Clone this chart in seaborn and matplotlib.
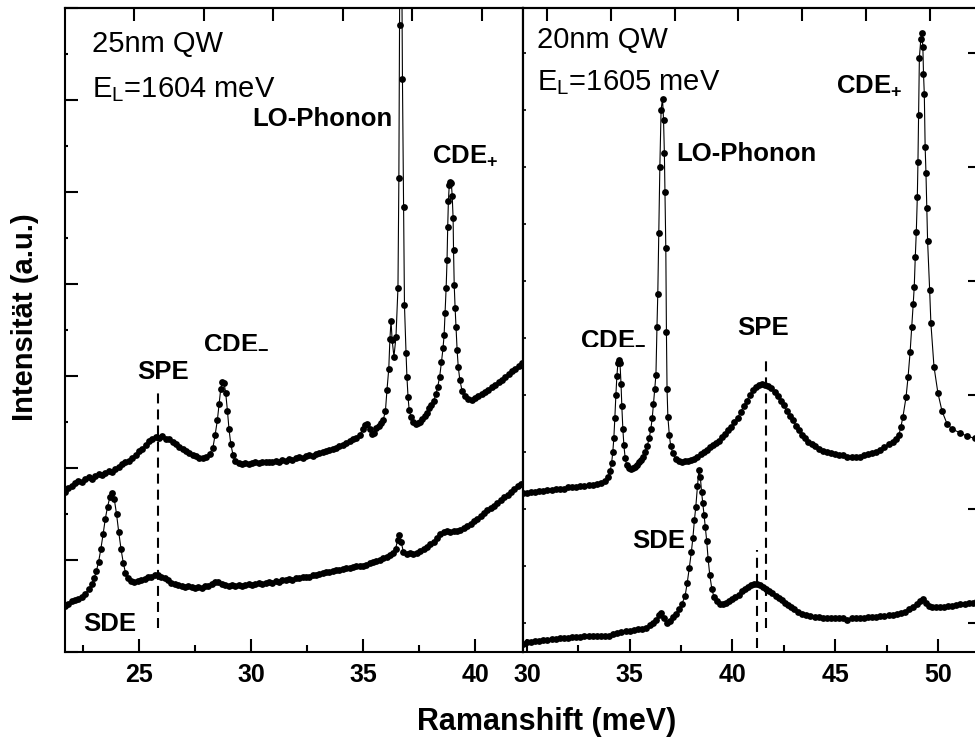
import matplotlib
matplotlib.use("Agg")
import matplotlib.pyplot as plt
import seaborn as sns
import pandas as pd
from matplotlib.ticker import MultipleLocator, FixedLocator, NullFormatter

# ---------------- data ----------------
# Left panel: 25 nm QW, E_L = 1604 meV (upper spectrum L1, lower spectrum L2)
L1_x = [21.70, 21.85, 22.00, 22.15, 22.30, 22.45, 22.60, 22.75, 22.90, 23.05,
        23.20, 23.35, 23.50, 23.65, 23.80, 23.95, 24.10, 24.25, 24.40, 24.55,
        24.70, 24.85, 25.00, 25.15, 25.30, 25.45, 25.60, 25.75, 25.90, 26.05,
        26.20, 26.35, 26.50, 26.65, 26.80, 26.95, 27.10, 27.25, 27.40, 27.55,
        27.70, 27.85, 28.00, 28.15, 28.30, 28.40, 28.50, 28.58, 28.65, 28.72,
        28.80, 28.87, 28.95, 29.02, 29.10, 29.20, 29.30, 29.45, 29.60, 29.75,
        29.90, 30.05, 30.20, 30.35, 30.50, 30.65, 30.80, 30.95, 31.10, 31.25,
        31.40, 31.55, 31.70, 31.85, 32.00, 32.15, 32.30, 32.45, 32.60, 32.75,
        32.90, 33.05, 33.20, 33.35, 33.50, 33.65, 33.80, 33.95, 34.10, 34.25,
        34.40, 34.55, 34.70, 34.85, 35.00, 35.10, 35.20, 35.30, 35.40, 35.50,
        35.60, 35.70, 35.80, 35.90, 36.00, 36.07, 36.15, 36.20, 36.25, 36.30,
        36.38, 36.47, 36.56, 36.60, 36.63, 36.68, 36.76, 36.81, 36.85, 36.92,
        36.96, 37.01, 37.06, 37.15, 37.25, 37.35, 37.45, 37.55, 37.65, 37.75,
        37.85, 37.95, 38.05, 38.15, 38.25, 38.33, 38.42, 38.50, 38.57, 38.62,
        38.66, 38.71, 38.75, 38.78, 38.81, 38.85, 38.90, 38.94, 38.98, 39.02,
        39.04, 39.07, 39.11, 39.15, 39.20, 39.25, 39.32, 39.42, 39.55, 39.70,
        39.85, 40.00, 40.15, 40.30, 40.45, 40.60, 40.75, 40.90, 41.05, 41.20,
        41.35, 41.50, 41.65, 41.80, 41.95, 42.10]
L1_y = [1.74, 1.78, 1.80, 1.84, 1.86, 1.85, 1.88, 1.90, 1.88, 1.91,
        1.93, 1.92, 1.95, 1.97, 1.96, 1.99, 2.01, 2.04, 2.06, 2.08,
        2.11, 2.14, 2.18, 2.21, 2.25, 2.29, 2.32, 2.34, 2.33, 2.35,
        2.32, 2.31, 2.28, 2.26, 2.23, 2.21, 2.18, 2.16, 2.14, 2.13,
        2.11, 2.11, 2.12, 2.15, 2.22, 2.36, 2.52, 2.70, 2.86, 2.94,
        2.92, 2.82, 2.62, 2.42, 2.26, 2.14, 2.08, 2.05, 2.04, 2.05,
        2.04, 2.05, 2.06, 2.05, 2.06, 2.07, 2.06, 2.07, 2.08, 2.07,
        2.09, 2.08, 2.10, 2.09, 2.11, 2.12, 2.11, 2.13, 2.14, 2.13,
        2.15, 2.16, 2.17, 2.18, 2.20, 2.21, 2.22, 2.24, 2.25, 2.27,
        2.29, 2.31, 2.33, 2.36, 2.42, 2.47, 2.48, 2.42, 2.37, 2.38,
        2.43, 2.46, 2.49, 2.52, 2.62, 2.85, 3.08, 3.40, 3.60, 3.39,
        3.21, 3.42, 3.96, 5.15, 6.82, 9.50, 6.23, 4.84, 3.77, 3.25,
        2.99, 2.77, 2.63, 2.55, 2.50, 2.48, 2.49, 2.50, 2.53, 2.57,
        2.60, 2.65, 2.68, 2.73, 2.80, 2.88, 2.99, 3.15, 3.30, 3.45,
        3.68, 3.96, 4.26, 4.62, 4.90, 5.08, 5.11, 5.10, 4.96, 4.72,
        4.37, 3.99, 3.74, 3.53, 3.28, 3.10, 2.96, 2.84, 2.78, 2.75,
        2.74, 2.76, 2.78, 2.80, 2.83, 2.85, 2.88, 2.90, 2.93, 2.96,
        2.99, 3.02, 3.05, 3.08, 3.11, 3.14]

L2_x = [21.70, 21.85, 22.00, 22.15, 22.30, 22.45, 22.60, 22.75, 22.90, 23.00,
        23.10, 23.20, 23.30, 23.40, 23.50, 23.60, 23.70, 23.80, 23.90, 24.00,
        24.10, 24.20, 24.30, 24.40, 24.50, 24.65, 24.80, 24.95, 25.10, 25.25,
        25.40, 25.55, 25.70, 25.85, 26.00, 26.15, 26.30, 26.45, 26.60, 26.75,
        26.90, 27.05, 27.20, 27.35, 27.50, 27.65, 27.80, 27.95, 28.10, 28.25,
        28.40, 28.55, 28.70, 28.85, 29.00, 29.15, 29.30, 29.45, 29.60, 29.75,
        29.90, 30.05, 30.20, 30.35, 30.50, 30.65, 30.80, 30.95, 31.10, 31.25,
        31.40, 31.55, 31.70, 31.85, 32.00, 32.15, 32.30, 32.45, 32.60, 32.75,
        32.90, 33.05, 33.20, 33.35, 33.50, 33.65, 33.80, 33.95, 34.10, 34.25,
        34.40, 34.55, 34.70, 34.85, 35.00, 35.15, 35.30, 35.45, 35.60, 35.75,
        35.90, 36.05, 36.20, 36.35, 36.45, 36.55, 36.62, 36.70, 36.80, 36.95,
        37.10, 37.25, 37.40, 37.55, 37.70, 37.85, 38.00, 38.15, 38.30, 38.45,
        38.60, 38.75, 38.90, 39.05, 39.20, 39.35, 39.50, 39.65, 39.80, 39.95,
        40.10, 40.25, 40.40, 40.55, 40.70, 40.85, 41.00, 41.15, 41.30, 41.45,
        41.60, 41.75, 41.90, 42.05]
L2_y = [0.50, 0.52, 0.55, 0.56, 0.58, 0.60, 0.63, 0.68, 0.74, 0.80,
        0.88, 0.98, 1.12, 1.28, 1.45, 1.58, 1.68, 1.73, 1.66, 1.50,
        1.30, 1.12, 0.97, 0.86, 0.80, 0.77, 0.76, 0.77, 0.78, 0.79,
        0.81, 0.82, 0.84, 0.84, 0.82, 0.80, 0.78, 0.75, 0.74, 0.73,
        0.72, 0.71, 0.72, 0.71, 0.70, 0.71, 0.70, 0.72, 0.72, 0.74,
        0.76, 0.76, 0.74, 0.73, 0.72, 0.73, 0.72, 0.73, 0.72, 0.73,
        0.74, 0.73, 0.74, 0.75, 0.74, 0.75, 0.76, 0.75, 0.77, 0.76,
        0.78, 0.78, 0.79, 0.78, 0.80, 0.80, 0.81, 0.82, 0.82, 0.84,
        0.84, 0.85, 0.86, 0.87, 0.87, 0.88, 0.89, 0.89, 0.90, 0.91,
        0.91, 0.92, 0.93, 0.93, 0.94, 0.95, 0.97, 0.98, 0.99, 1.00,
        1.02, 1.03, 1.05, 1.08, 1.12, 1.22, 1.27, 1.20, 1.09, 1.07,
        1.08, 1.07, 1.08, 1.10, 1.12, 1.14, 1.17, 1.20, 1.24, 1.28,
        1.30, 1.31, 1.30, 1.31, 1.32, 1.33, 1.35, 1.37, 1.39, 1.42,
        1.45, 1.48, 1.51, 1.54, 1.56, 1.59, 1.62, 1.65, 1.68, 1.71,
        1.74, 1.77, 1.80, 1.83]

# Right panel: 20 nm QW, E_L = 1605 meV (upper spectrum R1, lower spectrum R2)
R1_x = [29.81, 30.00, 30.20, 30.40, 30.60, 30.80, 31.00, 31.20, 31.40, 31.60,
        31.80, 32.00, 32.20, 32.40, 32.60, 32.80, 33.00, 33.20, 33.40, 33.60,
        33.80, 33.95, 34.05, 34.12, 34.18, 34.23, 34.28, 34.33, 34.38, 34.43,
        34.48, 34.53, 34.58, 34.62, 34.67, 34.72, 34.78, 34.85, 34.95, 35.05,
        35.15, 35.25, 35.35, 35.45, 35.55, 35.65, 35.75, 35.85, 35.95, 36.03,
        36.10, 36.16, 36.22, 36.28, 36.33, 36.37, 36.42, 36.47, 36.53, 36.60,
        36.65, 36.69, 36.72, 36.76, 36.79, 36.82, 36.86, 36.93, 37.00, 37.10,
        37.25, 37.40, 37.55, 37.70, 37.85, 38.00, 38.15, 38.30, 38.45, 38.60,
        38.75, 38.90, 39.05, 39.20, 39.35, 39.50, 39.65, 39.80, 39.95, 40.10,
        40.25, 40.40, 40.55, 40.70, 40.85, 41.00, 41.15, 41.30, 41.45, 41.60,
        41.75, 41.90, 42.05, 42.20, 42.35, 42.50, 42.65, 42.80, 42.95, 43.10,
        43.25, 43.40, 43.55, 43.70, 43.85, 44.00, 44.20, 44.40, 44.60, 44.80,
        45.00, 45.20, 45.40, 45.60, 45.80, 46.00, 46.20, 46.40, 46.60, 46.80,
        47.00, 47.20, 47.40, 47.60, 47.80, 47.95, 48.10, 48.20, 48.30, 48.45,
        48.55, 48.65, 48.73, 48.80, 48.85, 48.90, 48.95, 49.00, 49.03, 49.06,
        49.10, 49.17, 49.22, 49.27, 49.30, 49.34, 49.38, 49.42, 49.46, 49.50,
        49.60, 49.66, 49.81, 50.00, 50.20, 50.44, 50.70, 51.07, 51.40, 51.80,
        52.05]
R1_y = [2.14, 2.14, 2.15, 2.15, 2.16, 2.16, 2.17, 2.17, 2.18, 2.18,
        2.18, 2.19, 2.19, 2.19, 2.20, 2.20, 2.21, 2.21, 2.22, 2.23,
        2.25, 2.28, 2.33, 2.40, 2.50, 2.62, 2.80, 3.00, 3.17, 3.28,
        3.31, 3.28, 3.10, 2.90, 2.70, 2.56, 2.45, 2.39, 2.36, 2.35,
        2.36, 2.37, 2.39, 2.41, 2.43, 2.46, 2.50, 2.55, 2.62, 2.70,
        2.80, 2.92, 3.05, 3.18, 3.60, 3.89, 4.42, 5.00, 5.50, 5.60,
        5.41, 5.12, 4.78, 4.29, 3.55, 3.05, 2.81, 2.65, 2.55, 2.49,
        2.44, 2.42, 2.41, 2.42, 2.42, 2.43, 2.44, 2.46, 2.48, 2.50,
        2.52, 2.54, 2.56, 2.58, 2.60, 2.63, 2.66, 2.69, 2.72, 2.76,
        2.80, 2.85, 2.90, 2.95, 3.00, 3.04, 3.07, 3.09, 3.10, 3.09,
        3.08, 3.06, 3.03, 2.99, 2.95, 2.91, 2.86, 2.82, 2.78, 2.73,
        2.69, 2.65, 2.62, 2.59, 2.57, 2.55, 2.53, 2.51, 2.50, 2.49,
        2.48, 2.47, 2.47, 2.46, 2.46, 2.46, 2.46, 2.47, 2.48, 2.49,
        2.50, 2.52, 2.54, 2.57, 2.59, 2.61, 2.65, 2.72, 2.81, 2.98,
        3.16, 3.38, 3.60, 3.80, 3.95, 4.21, 4.43, 4.74, 5.04, 5.46,
        5.96, 6.12, 6.18, 6.05, 5.82, 5.64, 5.18, 4.95, 4.64, 4.35,
        3.92, 3.63, 3.25, 3.02, 2.86, 2.75, 2.70, 2.67, 2.64, 2.62,
        2.61]

R2_x = [29.81, 30.00, 30.20, 30.40, 30.60, 30.80, 31.00, 31.20, 31.40, 31.60,
        31.80, 32.00, 32.20, 32.40, 32.60, 32.80, 33.00, 33.20, 33.40, 33.60,
        33.80, 34.00, 34.20, 34.40, 34.60, 34.80, 35.00, 35.20, 35.40, 35.60,
        35.80, 36.00, 36.15, 36.30, 36.45, 36.55, 36.65, 36.80, 36.95, 37.10,
        37.25, 37.40, 37.55, 37.70, 37.80, 37.90, 38.00, 38.08, 38.15, 38.22,
        38.30, 38.37, 38.44, 38.50, 38.56, 38.62, 38.68, 38.75, 38.82, 38.90,
        39.00, 39.10, 39.25, 39.40, 39.55, 39.70, 39.85, 40.00, 40.15, 40.30,
        40.45, 40.60, 40.75, 40.90, 41.05, 41.20, 41.35, 41.50, 41.65, 41.80,
        41.95, 42.10, 42.25, 42.40, 42.55, 42.70, 42.85, 43.00, 43.20, 43.40,
        43.60, 43.80, 44.00, 44.20, 44.40, 44.60, 44.80, 45.00, 45.20, 45.40,
        45.60, 45.80, 46.00, 46.20, 46.40, 46.60, 46.80, 47.00, 47.20, 47.40,
        47.60, 47.80, 48.00, 48.20, 48.40, 48.60, 48.80, 49.00, 49.15, 49.27,
        49.40, 49.55, 49.70, 49.90, 50.10, 50.30, 50.50, 50.70, 50.90, 51.10,
        51.30, 51.50, 51.70, 51.90, 52.05]
R2_y = [0.82, 0.83, 0.83, 0.84, 0.84, 0.85, 0.85, 0.86, 0.86, 0.87,
        0.87, 0.87, 0.88, 0.88, 0.88, 0.89, 0.89, 0.89, 0.89, 0.89,
        0.89, 0.89, 0.90, 0.91, 0.92, 0.93, 0.93, 0.94, 0.95, 0.95,
        0.96, 0.98, 1.00, 1.03, 1.07, 1.09, 1.04, 1.00, 1.02, 1.05,
        1.08, 1.12, 1.17, 1.24, 1.35, 1.48, 1.62, 1.75, 1.90, 2.02,
        2.20, 2.34, 2.28, 2.15, 2.05, 1.95, 1.84, 1.72, 1.56, 1.42,
        1.30, 1.23, 1.19, 1.17, 1.17, 1.18, 1.19, 1.21, 1.23, 1.25,
        1.28, 1.30, 1.32, 1.33, 1.34, 1.34, 1.33, 1.32, 1.30, 1.28,
        1.26, 1.24, 1.22, 1.20, 1.18, 1.16, 1.14, 1.12, 1.10, 1.08,
        1.07, 1.06, 1.05, 1.05, 1.04, 1.04, 1.04, 1.04, 1.04, 1.04,
        1.03, 1.04, 1.04, 1.04, 1.04, 1.05, 1.05, 1.05, 1.06, 1.06,
        1.07, 1.07, 1.08, 1.09, 1.10, 1.12, 1.14, 1.17, 1.19, 1.21,
        1.18, 1.15, 1.14, 1.14, 1.14, 1.14, 1.15, 1.15, 1.16, 1.17,
        1.17, 1.18, 1.18, 1.19, 1.20]

# dashed SPE marker lines: (x, y_from, y_to)
spe_left = [(25.85, 0.26, 2.87)]
spe_right = [(41.63, 0.96, 3.33), (41.19, 0.78, 1.64)]

# tick labels
left_xticks = [25, 30, 35, 40]
right_xticks = [30, 35, 40, 45, 50]
top_left_cm = [200, 225, 250, 275, 300, 325]
top_right_cm = [250, 275, 300, 325, 350, 375, 400]

# annotations (text, x, y)
left_labels = [("LO-Phonon", 30.04, 5.72), ("CDE$_\\mathbf{+}$", 38.08, 5.32),
               ("SPE", 24.91, 2.97), ("CDE$_\\mathbf{-}$", 27.86, 3.30),
               ("SDE", 22.50, 0.23)]
right_labels = [("LO-Phonon", 37.25, 5.05), ("CDE$_\\mathbf{+}$", 45.04, 5.65),
                ("CDE$_\\mathbf{-}$", 32.58, 3.45), ("SPE", 40.22, 3.53),
                ("SDE", 35.11, 1.66)]

# ---------------- style ----------------
sns.set_style("white")
plt.rcParams["font.family"] = ["Liberation Sans", "DejaVu Sans"]
plt.rcParams["mathtext.fontset"] = "custom"
plt.rcParams["mathtext.rm"] = "Liberation Sans"
plt.rcParams["mathtext.bf"] = "Liberation Sans:bold"
plt.rcParams["mathtext.it"] = "Liberation Sans:italic"
plt.rcParams["axes.linewidth"] = 1.5
for key in ("text.color", "axes.labelcolor", "xtick.color", "ytick.color",
            "axes.edgecolor"):
    plt.rcParams[key] = "black"

W, H = 975.0, 740.0
fig = plt.figure(figsize=(9.75, 7.4), dpi=100)
axL = fig.add_axes([65 / W, 88 / H, 458 / W, 644 / H])
axR = fig.add_axes([523 / W, 88 / H, 457 / W, 644 / H])

line_kw = dict(color="black", linewidth=0.8, marker="o", markersize=4.9,
               mec="black", mew=0, estimator=None, sort=False, legend=False)

for ax, curves in ((axL, [(L1_x, L1_y), (L2_x, L2_y)]),
                   (axR, [(R1_x, R1_y), (R2_x, R2_y)])):
    for xs, ys in curves:
        df = pd.DataFrame({"shift": xs, "intensity": ys})
        sns.lineplot(data=df, x="shift", y="intensity", ax=ax, **line_kw)

for x0, y0, y1 in spe_left:
    axL.plot([x0, x0], [y0, y1], color="black", lw=1.5, ls=(0, (4.8, 2.9)))
for x0, y0, y1 in spe_right:
    axR.plot([x0, x0], [y0, y1], color="black", lw=1.5, ls=(0, (4.8, 2.9)))

axL.set_xlim(21.70, 42.14)
axL.set_ylim(0, 7.0)
axR.set_xlim(29.81, 52.05)
axR.set_ylim(0.746, 6.395)

for ax in (axL, axR):
    ax.set_xlabel("")
    ax.set_ylabel("")
    for sp in ax.spines.values():
        sp.set_linewidth(1.5)
        sp.set_color("black")

# x ticks
axL.set_xticks(left_xticks, labels=[str(v) for v in left_xticks],
               fontsize=18, fontweight="bold", color="black")
axR.set_xticks(right_xticks, labels=[str(v) for v in right_xticks],
               fontsize=18, fontweight="bold", color="black")
for ax in (axL, axR):
    ax.xaxis.set_minor_locator(MultipleLocator(2.5))
    ax.tick_params(axis="x", which="major", direction="in", length=9.5,
                   width=1.5, pad=8, top=False, bottom=True, colors="black")
    ax.tick_params(axis="x", which="minor", direction="in", length=5,
                   width=1.5, top=False, bottom=True, colors="black")

# y ticks
axL.yaxis.set_major_locator(MultipleLocator(1))
axL.yaxis.set_minor_locator(MultipleLocator(0.5))
axL.yaxis.set_major_formatter(NullFormatter())
axL.tick_params(axis="y", which="major", direction="in", length=9.5, width=1.5,
                left=True, right=False, labelleft=False, colors="black")
axL.tick_params(axis="y", which="minor", direction="in", length=2.5, width=1.5,
                left=True, right=False, colors="black")

axR.yaxis.set_major_locator(MultipleLocator(1))
axR.yaxis.set_major_formatter(NullFormatter())
axR.tick_params(axis="y", which="major", direction="in", length=9, width=1.5,
                left=False, right=True, labelleft=False, labelright=False,
                colors="black")
axR.tick_params(axis="y", which="minor", left=False, right=False)

secL_y = axR.secondary_yaxis("left", functions=(lambda v: v, lambda v: v))
secL_y.yaxis.set_major_locator(MultipleLocator(0.5))
secL_y.yaxis.set_major_formatter(NullFormatter())
secL_y.tick_params(direction="in", length=2.5, width=1.2, colors="black")
secL_y.spines["left"].set_linewidth(1.5)

# top axes in cm^-1 (ticks only)
def mev_to_cm(v):
    return v * 8.06554

def cm_to_mev(v):
    return v / 8.06554

for ax, ticks in ((axL, top_left_cm), (axR, top_right_cm)):
    sec = ax.secondary_xaxis("top", functions=(mev_to_cm, cm_to_mev))
    sec.xaxis.set_major_locator(FixedLocator(ticks))
    sec.xaxis.set_major_formatter(NullFormatter())
    sec.tick_params(direction="in", length=9.5, width=1.5, labeltop=False,
                    colors="black")
    sec.spines["top"].set_linewidth(1.5)

# annotations
for txt, x, y in left_labels:
    axL.text(x, y, txt, fontsize=18.5, fontweight="bold", ha="left",
             va="baseline", color="black")
for txt, x, y in right_labels:
    axR.text(x, y, txt, fontsize=18.5, fontweight="bold", ha="left",
             va="baseline", color="black")

axL.text(0.059, 0.9317, "25nm QW", transform=axL.transAxes, fontsize=21,
         ha="left", va="baseline", color="black")
axL.text(0.059, 0.8618, "E$_\\mathrm{L}$=1604 meV", transform=axL.transAxes,
         fontsize=21, ha="left", va="baseline", color="black")
axR.text(0.0306, 0.9379, "20nm QW", transform=axR.transAxes, fontsize=21,
         ha="left", va="baseline", color="black")
axR.text(0.0306, 0.8727, "E$_\\mathrm{L}$=1605 meV", transform=axR.transAxes,
         fontsize=21, ha="left", va="baseline", color="black")

fig.text(25 / W, 1 - 317 / H, "Intensität (a.u.)", rotation=90, ha="center",
         va="center", fontsize=21, fontweight="bold", color="black")
fig.text(547 / W, 10 / H, "Ramanshift (meV)", ha="center", va="baseline",
         fontsize=22, fontweight="bold", color="black")

fig.savefig("out.png", dpi=100)
